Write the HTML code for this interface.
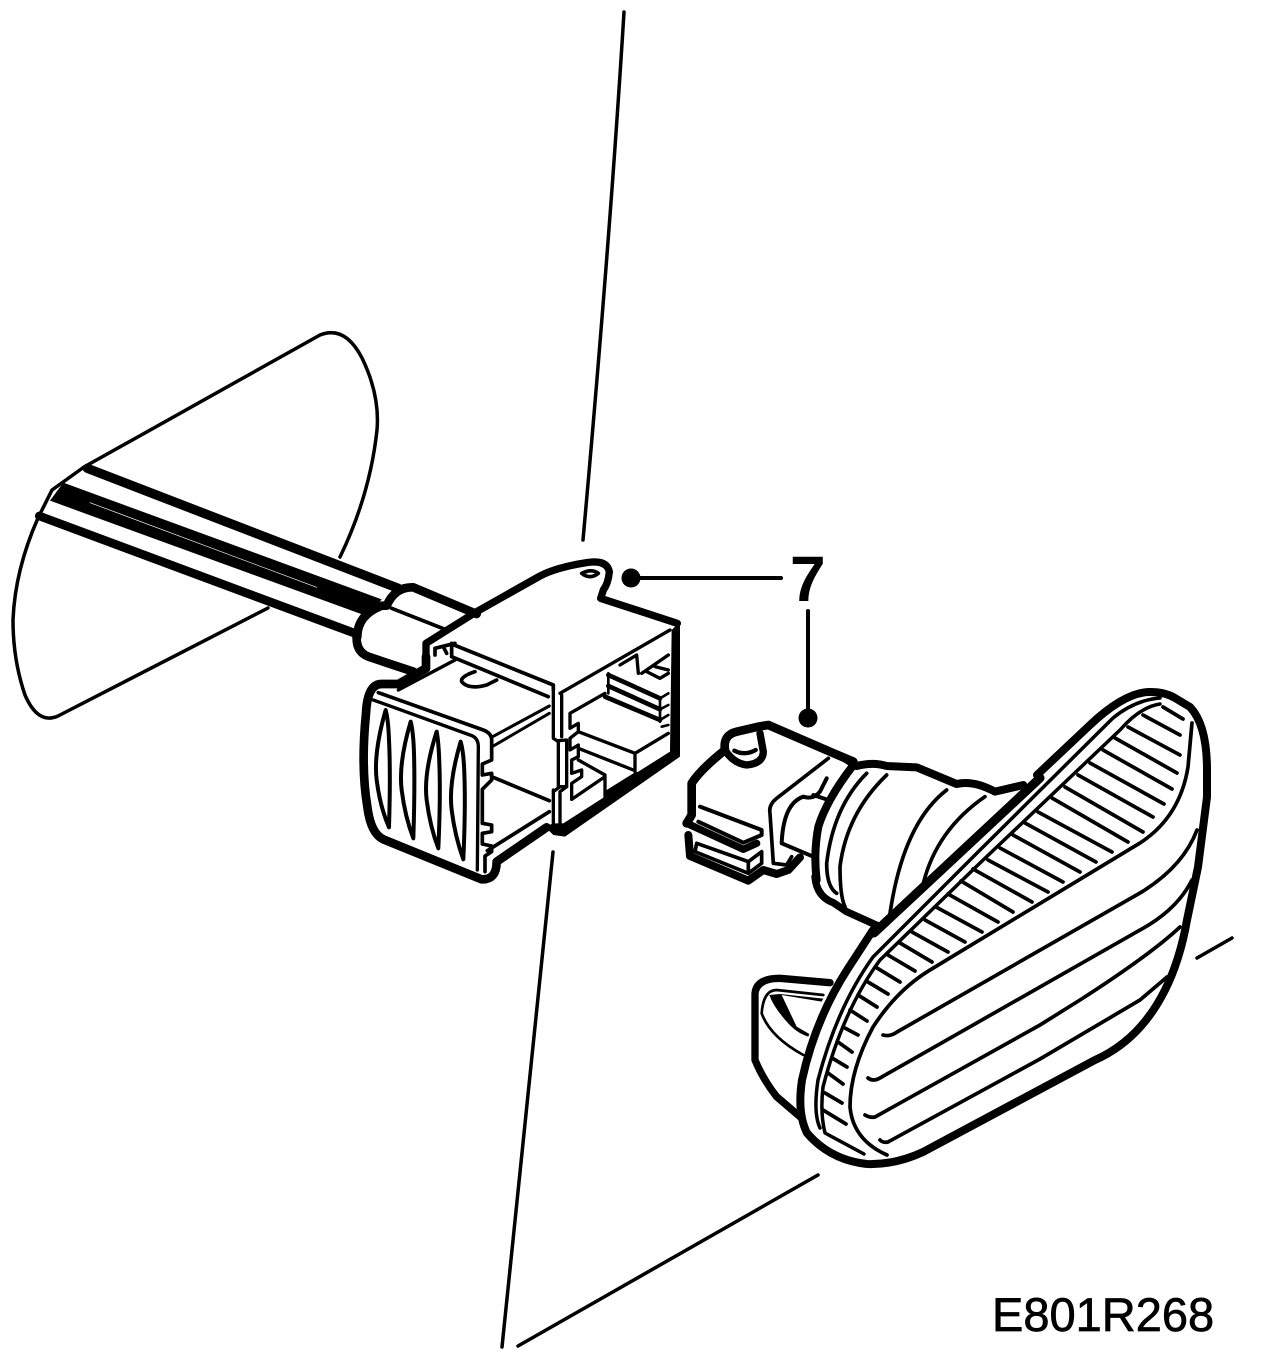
<!DOCTYPE html>
<html><head><meta charset="utf-8"><style>
html,body{margin:0;padding:0;background:#fff;width:1264px;height:1360px;overflow:hidden}
svg{display:block}
text{font-family:"Liberation Sans",sans-serif;fill:#000}
path,line,ellipse{fill:none;stroke:#000;stroke-linejoin:round;stroke-linecap:round}
.f{fill:#000;stroke:none}
</style></head><body>
<svg width="1264" height="1360" viewBox="0 0 1264 1360" xmlns="http://www.w3.org/2000/svg">
<!-- reference lines -->
<path stroke-width="3.5" stroke-linecap="butt" d="M624,12 Q610,240 583,540"/>
<path stroke-width="3.5" stroke-linecap="butt" d="M553,852 L502,1347"/>
<path stroke-width="3.5" stroke-linecap="butt" d="M518,1346 L818,1175"/>
<path stroke-width="3.5" stroke-linecap="butt" d="M1197,958 L1232,938"/>
<path stroke-width="3.5" stroke-linecap="butt" d="M84,467 L320,335 Q345,325 362,358 Q380,395 377,430 Q370,495 340,557"/>
<path stroke-width="3.5" stroke-linecap="butt" d="M268,608 L58,716 Q38,725 25,695 Q13,660 13,620 Q15,570 38,518 L52,490 L84,467"/>
<!-- leaders -->
<circle class="f" cx="631" cy="578" r="9.5"/>
<line x1="631" y1="578" x2="781" y2="578" stroke-width="4" stroke-linecap="butt"/>
<line x1="808" y1="611" x2="808" y2="716" stroke-width="4" stroke-linecap="butt"/>
<circle class="f" cx="808" cy="718" r="9.5"/>
<text x="790" y="601" font-size="64" font-weight="700">7</text>
<text x="992" y="1331" font-size="47" stroke="#000" stroke-width=".7">E801R268</text>

<!-- wire -->
<g transform="translate(0,440) scale(.33333)">
<path stroke-width="28" stroke-linecap="butt" d="M262,85 L1195,445"/>
<path class="f" d="M190,128 L1145,478 L1105,530 L150,182 Z"/>
<path stroke-width="26" stroke-linecap="butt" d="M118,228 L1070,582"/>
<path style="stroke:#fff" stroke-width="2" d="M270,188 L950,442"/>
<path stroke-width="26" d="M1072,590 Q1072,525 1145,497 L1160,497 Q1185,440 1240,442 L1430,522"/>
<path stroke-width="26" d="M1070,590 Q1068,635 1105,650 L1240,695"/>
<path stroke-width="11" d="M1175,505 L1340,570"/>
</g>

<!-- connector -->
<g transform="translate(340,540) scale(.33333)">
<path stroke-width="22" d="M258,350 L258,310 L410,215 L600,108 Q650,82 740,68 Q800,58 808,95 Q805,130 790,150 L782,175 L1012,250"/>
<path stroke-width="26" d="M620,862 L470,965 Q470,1020 425,1018 L130,898 Q92,880 82,800 Q62,680 78,520 Q82,432 125,432 L175,432 L258,385 L258,350"/>
<path stroke-width="11" d="M725,100 Q750,120 775,100 Q755,85 725,100 Z"/>
<path stroke-width="11" d="M115,458 L430,570 Q455,580 455,600 L455,660 L427,672 L427,705 L455,700 L455,720 L427,748 L427,850 L455,855 L455,875 L427,880 L427,912 L455,918 L455,935 L435,948 L435,995"/>
<path stroke-width="10" d="M100,480 L390,585 Q415,592 415,620 L412,990"/>
<path stroke-width="12" d="M137,510 Q100,640 110,720 Q120,800 147,862 Q152,700 147,600 Q145,540 137,510 Z"/>
<path stroke-width="12" d="M212,545 Q175,670 185,750 Q195,830 220,895 Q225,740 222,640 Q220,575 212,545 Z"/>
<path stroke-width="12" d="M290,575 Q250,700 260,780 Q270,860 295,925 Q302,770 298,670 Q296,605 290,575 Z"/>
<path stroke-width="12" d="M362,605 Q325,730 335,810 Q345,890 370,958 Q377,800 373,700 Q371,635 362,605 Z"/>
<path stroke-width="10" d="M175,450 L345,360"/>
<path stroke-width="11" d="M335,312 L640,435 L640,450"/>
<path stroke-width="11" d="M335,350 L625,470"/>
<path stroke-width="11" d="M335,310 L335,350 M285,325 L345,310 M285,325 L285,345 M310,320 L320,340"/>
<path stroke-width="11" d="M405,395 Q360,410 365,425 Q385,450 440,435 L470,420"/>
<path stroke-width="9" d="M458,590 L628,498 M460,618 L628,520"/>
<path stroke-width="11" d="M455,710 L628,782"/>
<path stroke-width="11" d="M442,932 L628,815"/>
</g>

<!-- connector right side -->
<g transform="translate(540,610) scale(.33333)">
<path class="f" d="M40,640 L70,640 L195,560 L200,540 L280,490 L295,485 L390,425 L395,60 L420,35 L420,440 L75,680 L40,675 L15,650 Z"/>
<path stroke-width="10" d="M60,250 L390,60"/>
<path stroke-width="10" d="M40,240 L40,385 L55,395 L55,530 M65,255 L65,380 M55,392 L80,390 L80,530 L60,545"/>
<path stroke-width="10" d="M40,540 L40,640 M40,545 L60,530 L80,530 M60,550 L60,645"/>
<path stroke-width="10" d="M195,250 L90,310 L90,355 L115,340 L115,365 L90,385 L90,420 L115,405 L115,440 L95,450 L95,490 L125,480 L125,500 L95,520 L95,568 L195,500 L195,565"/>
<path stroke-width="10" d="M115,365 L285,430 L385,370 M285,430 L285,485 M115,415 L280,480 M115,450 L195,495"/>
<path stroke-width="14" d="M205,195 L360,265 M205,228 L360,298 M195,260 L360,330"/>
<path stroke-width="8" d="M205,190 L205,250 M360,265 L360,335 M360,265 L385,250 M360,298 L385,285 M360,330 L385,315 M365,350 L385,345"/>
<path stroke-width="10" d="M240,165 L290,135 L295,190 M305,190 L385,135 M320,185 L360,205 L385,190 M345,170 L385,180"/>
</g>

<!-- bulb holder -->
<g transform="translate(670,680) scale(.33333)">
<path stroke-width="24" d="M520,232 L560,258 Q610,245 650,258 L740,262 L860,312 Q910,300 975,335 L1060,315"/>
<path stroke-width="24" d="M440,600 Q430,520 445,440 Q470,360 545,262"/>
<path stroke-width="22" d="M435,590 Q440,650 490,668 L530,695 L625,738"/>
<path stroke-width="11" d="M590,280 Q490,380 470,550 Q470,620 500,640"/>
<path stroke-width="11" d="M650,285 Q530,400 510,560 Q510,650 525,680"/>
<path stroke-width="11" d="M830,330 Q700,430 660,700"/>
<path stroke-width="11" d="M945,350 Q800,450 760,610"/>
</g>
<g transform="translate(680,720) scale(.33333)">
<path stroke-width="26" d="M20,310 L35,285 L35,190 Q60,150 135,90 Q128,45 170,35 L235,20 L265,15 L450,95 L520,125"/>
<path stroke-width="22" d="M135,90 Q160,130 200,135 Q250,130 250,95 L240,40"/>
<path stroke-width="13" d="M163,92 Q195,108 227,90"/>
<path stroke-width="12" d="M60,260 L245,330 L245,345 L190,368 L55,305"/>
<path stroke-width="22" d="M25,312 L190,388 L230,370"/>
<path stroke-width="24" d="M25,345 L30,408 L205,482 L250,450 L290,462 L325,450 L360,412"/>
<path stroke-width="11" d="M50,370 L205,425 L245,395 L245,430 L205,460 L45,395 Z M205,425 L205,460"/>
<path stroke-width="11" d="M445,115 L290,235 Q265,255 270,280 L280,430 L320,435 L335,410"/>
<path stroke-width="12" d="M440,175 L420,215 Q400,240 370,230 Q310,250 305,370 L400,410 M400,225 L445,240"/>
</g>

<!-- lens (absolute) -->
<path stroke-width="9" d="M874,933 L1040,778"/>
<path stroke-width="8" d="M1037,775 L1090,725 Q1125,692 1150,692 Q1165,692 1175,698 L1190,707 Q1207,725 1207,770 L1207,797 L1198,867 L1187,920 Q1180,960 1165,990 Q1140,1040 1095,1060 L923,1152 Q895,1165 867,1164 Q830,1160 807,1133 Q797,1113 802,1080 Q815,1020 847,970 L873,930"/>
<path stroke-width="3.5" d="M1160,698 Q1135,700 1113,718 L980,850 L873,957 Q837,1007 818,1080 Q813,1113 820,1128"/>
<path stroke-width="3.5" d="M1160,704 Q1140,707 1120,730 L980,863 L880,960 Q843,1010 823,1087 Q820,1113 825,1133 L864,1154"/>
<path stroke-width="3.7" d="M1192,723 L1188,767 Q1180,817 1140,843 L930,970 Q897,990 873,1027 Q850,1070 850,1107 Q853,1140 887,1155"/>
<path stroke-width="3.7" d="M1197,830 Q1183,867 1140,893 L897,1032 Q890,1037 883,1035"/>
<path stroke-width="3.7" d="M1192,880 Q1177,910 1140,930 L880,1078 Q873,1082 868,1078"/>
<path stroke-width="3.7" d="M1180,927 Q1150,955 1080,1000 L1040,1025 L875,1117 Q870,1118 865,1115"/>
<path stroke-width="3.7" d="M1167,977 L1140,1000 L1040,1059 L888,1142 Q883,1143 880,1140"/>
<path stroke-width="3.7" stroke-linecap="butt" d="M1163,707 L1183,719 M1143,715 L1180,735 M1128,727 L1180,755 M1115,738 L1177,773 M1103,750 L1172,789 M1090,763 L1164,804 M1078,775 L1153,817 M1065,787 L1143,832 M1052,798 L1128,842 M1038,812 L1112,852 M1025,823 L1096,862 M1013,835 L1080,872 M1000,848 L1063,882 M988,860 L1048,892 M973,869 L1032,902 M961,881 L1013,912 M948,894 L998,922 M936,907 L982,932 M925,920 L965,942 M912,932 L948,952 M900,943 L932,962 M888,955 L915,971 M877,968 L900,982 M868,982 L888,994 M858,995 L877,1007 M850,1010 L867,1021 M843,1027 L858,1035 M838,1042 L852,1052 M832,1058 L847,1067 M828,1073 L843,1084 M825,1093 L842,1103 M823,1110 L846,1124"/>

<!-- clip -->
<g transform="translate(740,900) scale(.33333)">
<path stroke-width="22" d="M270,248 L120,235 Q50,235 45,280 L45,480 Q70,540 110,590 L180,650"/>
<path stroke-width="8" d="M250,285 L110,270 Q70,270 65,340 Q90,410 190,465"/>
<path class="f" d="M88,285 L120,282 L250,296 L245,305 L125,285 L170,380 L208,402 L205,410 Q170,400 140,365 Q100,320 88,285 Z"/>
</g>
</svg>
</body></html>
